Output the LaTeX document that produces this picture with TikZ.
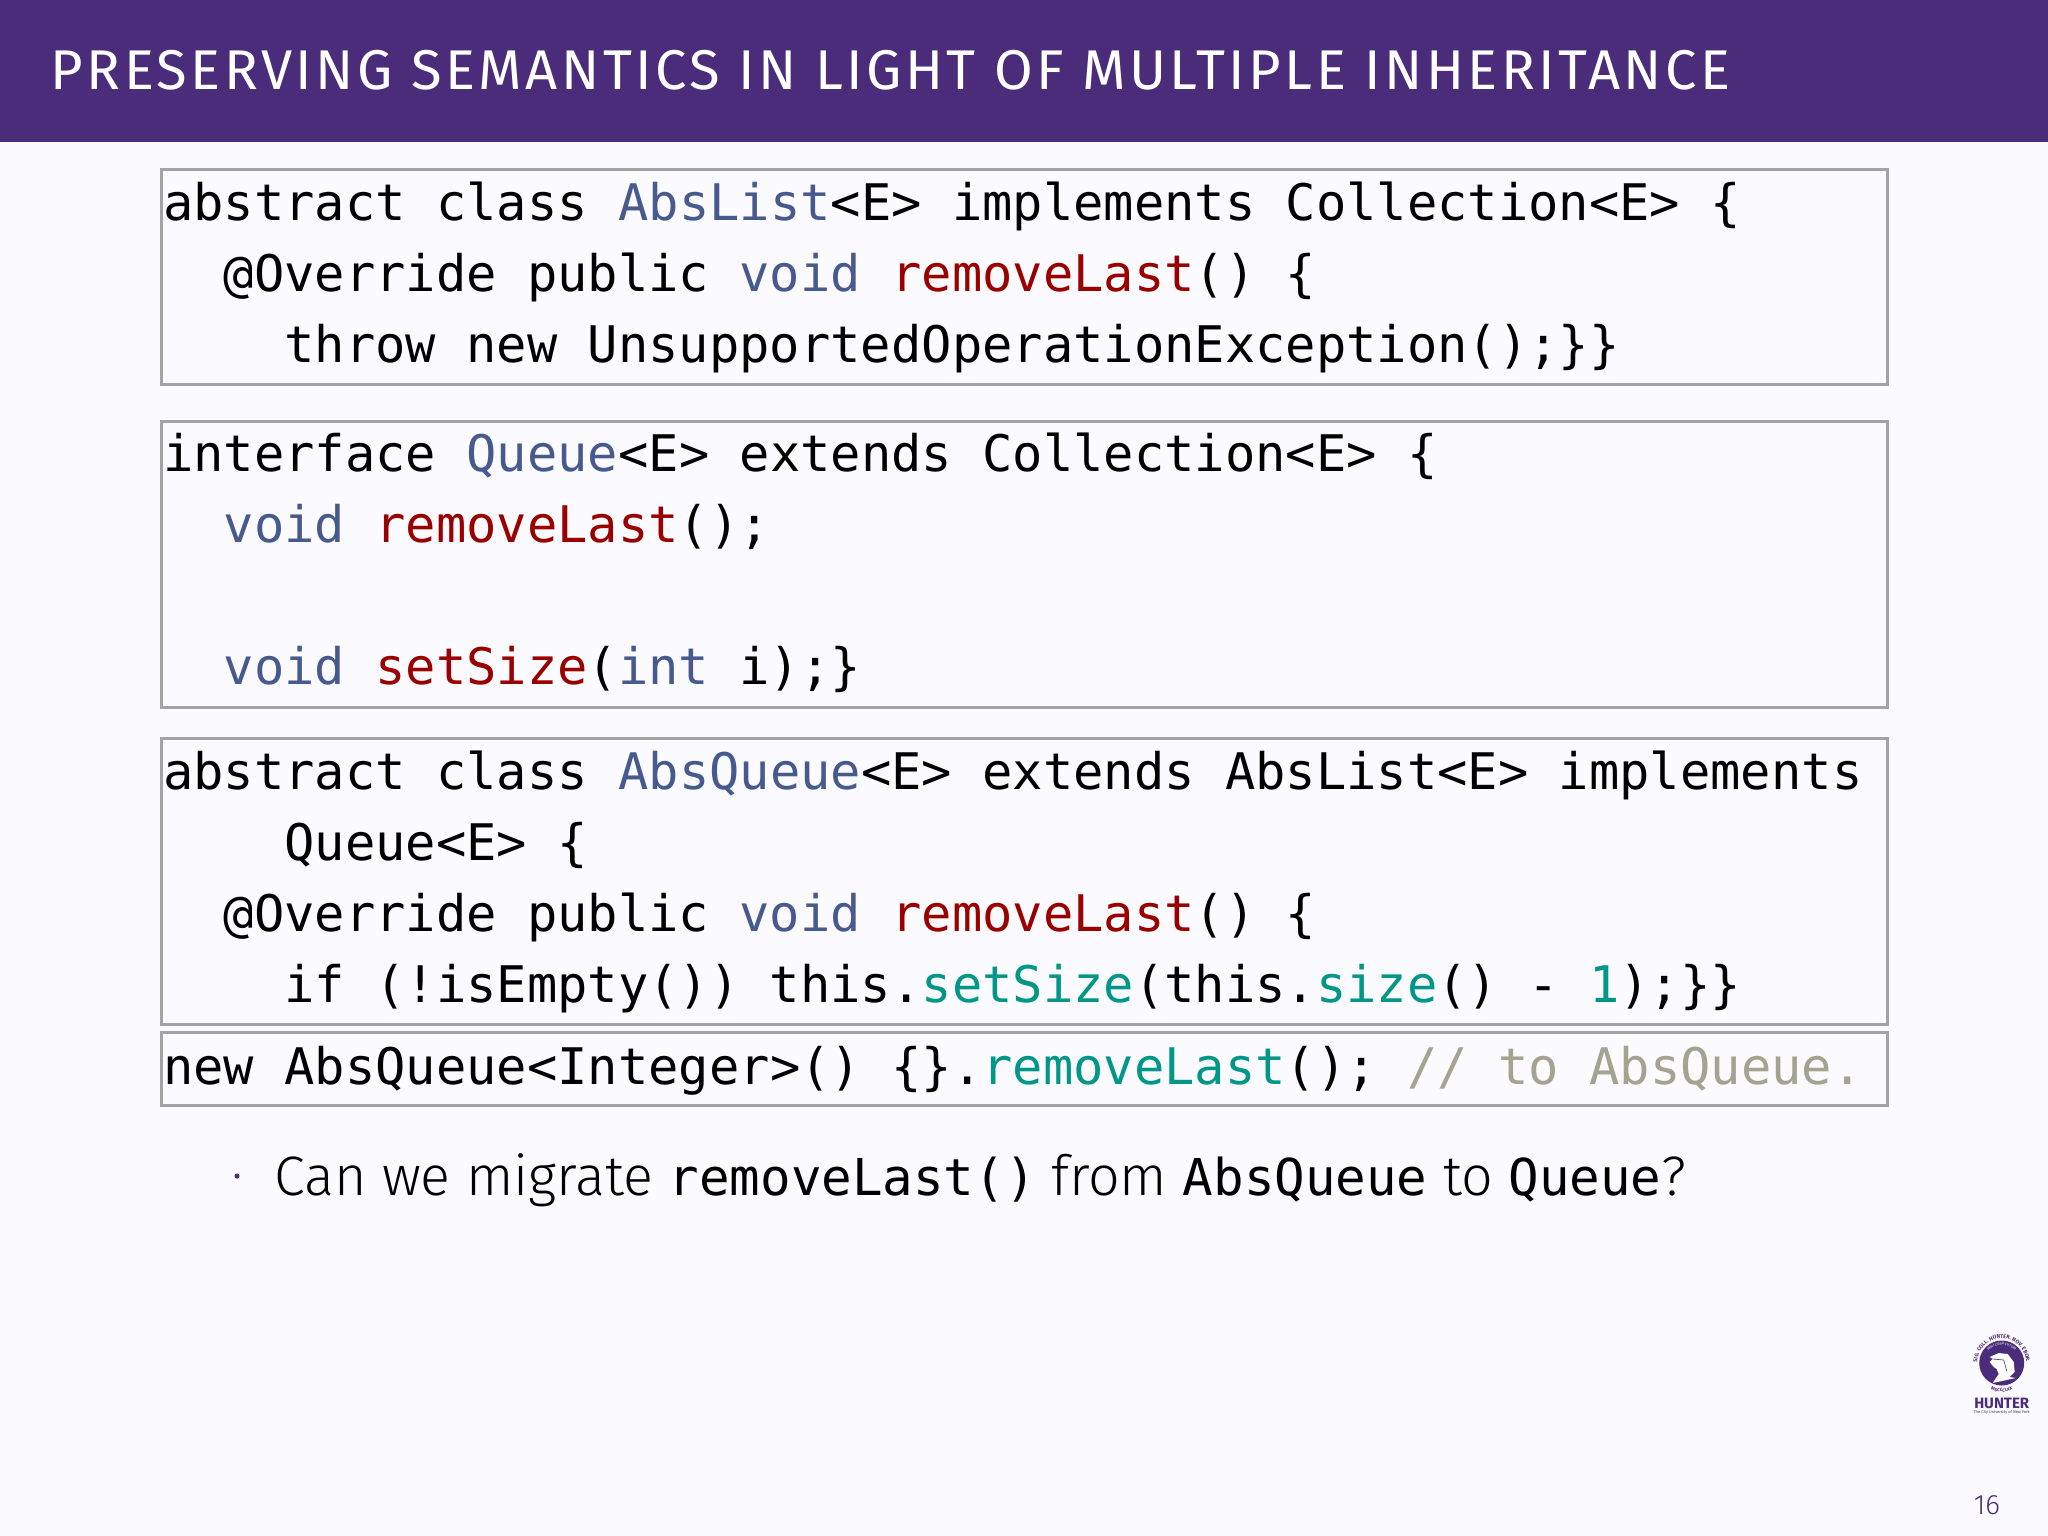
\documentclass[tikz,border=0pt]{standalone}
\usepackage{fontspec}
\setmainfont{Fira Sans}
\setmonofont[Ligatures=NoCommon]{DejaVu Sans Mono}
\newfontfamily\lightfont{Fira Sans Light}
\usetikzlibrary{positioning}
\usetikzlibrary{decorations.text}
\definecolor{hunterpurple}{HTML}{4A2C7A}
\definecolor{pagebg}{HTML}{FBFAFE}
\definecolor{boxgray}{HTML}{A3A3A3}
\definecolor{typeblue}{HTML}{465A8E}
\definecolor{defred}{HTML}{990000}
\definecolor{callteal}{HTML}{009688}
\definecolor{commentgray}{HTML}{A3A38F}
\newcommand{\tyname}[1]{\textcolor{typeblue}{#1}}
\newcommand{\mdef}[1]{\textcolor{defred}{#1}}
\newcommand{\mcall}[1]{\textcolor{callteal}{#1}}
\newcommand{\inlinecode}[1]{{\fontsize{50.8}{71}\selectfont\ttfamily #1}}
\tikzstyle{codebox} = [draw=boxgray, line width=2.4pt, inner sep=0pt, anchor=north west, minimum width=1726pt]
\tikzstyle{code} = [anchor=base west, inner sep=0pt, font=\fontsize{50.4}{71}\selectfont\ttfamily]
\tikzstyle{prose} = [anchor=base west, inner sep=0pt, font=\fontsize{55.6}{71}\selectfont\lightfont]
\begin{document}
\begin{tikzpicture}[x=1pt, y=-1pt]
    \useasboundingbox (0,0) rectangle (2048,1536);
    \fill [pagebg] (0,0) rectangle (2048,1536);
    \fill [hunterpurple] (0,0) rectangle (2048,142);
    \node [anchor=base west, inner sep=0pt, text=white, font=\fontsize{56}{60}\selectfont\addfontfeature{LetterSpace=6.2}] (title) at (50.5,90) {PRESERVING SEMANTICS IN LIGHT OF MULTIPLE INHERITANCE};

    %% first listing
    \node [codebox, minimum height=215pt] (listbox) at (160.3,168.3) {};
    \node [code] (l1a) at (163,220.5) {abstract class \tyname{AbsList}<E> implements Collection<E> \{};
    \node [code] (l1b) at (223.6,291.5) {@Override public \tyname{void} \mdef{removeLast}() \{};
    \node [code] (l1c) at (284.3,362.5) {throw new UnsupportedOperationException();\}\}};

    %% second listing
    \node [codebox, minimum height=286pt] (queuebox) at (160.3,420.3) {};
    \node [code] (l2a) at (163,471.5) {interface \tyname{Queue}<E> extends Collection<E> \{};
    \node [code] (l2b) at (223.6,542.5) {\tyname{void} \mdef{removeLast}();};
    \node [code] (l2d) at (223.6,684.5) {\tyname{void} \mdef{setSize}(\tyname{int} i);\}};

    %% third listing
    \node [codebox, minimum height=286pt] (absqbox) at (160.3,737.3) {};
    \node [code] (l3a) at (163,789) {abstract class \tyname{AbsQueue}<E> extends AbsList<E> implements};
    \node [code] (l3b) at (284.3,860) {Queue<E> \{};
    \node [code] (l3c) at (223.6,931) {@Override public \tyname{void} \mdef{removeLast}() \{};
    \node [code] (l3d) at (284.3,1002) {if (!isEmpty()) this.\mcall{setSize}(this.\mcall{size}() - \mcall{1});\}\}};

    %% call
    \node [codebox, minimum height=73pt] (callbox) at (160.3,1031.3) {};
    \node [code] (l4a) at (163,1084) {new AbsQueue<Integer>() \{\}.\mcall{removeLast}(); \textcolor{commentgray}{// to AbsQueue.}};

    %% question
    \fill [hunterpurple] (237,1176) circle (2.5pt);
    \node [prose] (ask) at (274,1195) {Can we migrate \inlinecode{removeLast()} from \inlinecode{AbsQueue} to \inlinecode{Queue}?};

    %% seal
    \begin{scope}[shift={(2001.7,1363)}, x=1pt, y=1pt]
        \fill [hunterpurple] (0,0) circle (22.5pt);
        \path [decorate, decoration={text along path, text align=center, text color=hunterpurple, text={|\fontsize{5.4}{6}\selectfont\bfseries|SIG. COLL. HUNTER. NOV. EBOR.}}] (205:24.5) arc [start angle=205, end angle=-25, radius=24.5];
        \path [decorate, decoration={text along path, text align=center, text color=hunterpurple, text={|\fontsize{4.6}{5}\selectfont\bfseries|MDCCCLXX}}] (240:29) arc [start angle=240, end angle=300, radius=29];
        \path [decorate, decoration={text along path, text align=center, text color=white, text={|\fontsize{3.6}{4}\selectfont|MIHI CURA FUTURI}}] (170:18) arc [start angle=170, end angle=10, radius=18];
        \fill [white] (-9,-20) -- (-3,-11) -- (-5,-6) -- (-8,-4) -- (-12,1) -- (-9,4) -- (-12,6) -- (-3,10) -- (6,9) -- (12,1) -- (13,-9) -- (8,-14) -- (14,-15) -- cycle;
        \draw [hunterpurple, line width=.6pt] (-9,4) -- (2,3) -- (5,-8);
    \end{scope}
    \node [inner sep=0pt, text=hunterpurple, font=\fontsize{15}{15}\selectfont\bfseries] (sealname) at (2001.7,1403.5) {HUNTER};
    \node [inner sep=0pt, text=hunterpurple, font=\fontsize{4}{4}\selectfont] (sealcity) at (2001.7,1412) {The City University of New York};

    \node [anchor=base, inner sep=0pt, text=hunterpurple, font=\fontsize{28}{30}\selectfont\lightfont] (pagenum) at (1987,1514) {16};
\end{tikzpicture}
\end{document}
